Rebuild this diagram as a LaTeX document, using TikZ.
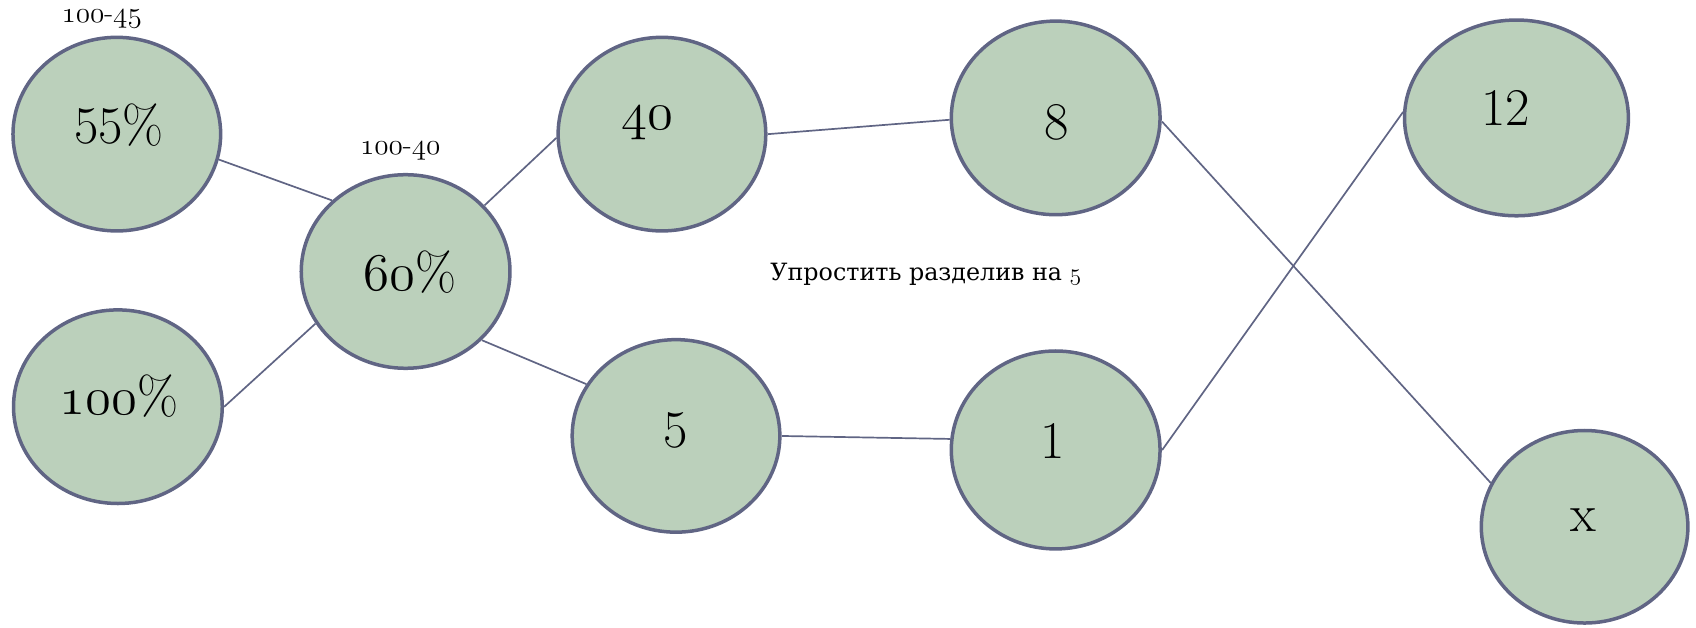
\RequirePackage{fix-cm}
\documentclass[tikz,border=0pt]{standalone}
\usepackage{fontspec}
\newfontfamily\cyrfont{DejaVu Serif}
\usetikzlibrary{shapes.geometric}
\newcommand{\osn}[1]{{\usefont{OML}{cmm}{m}{it}#1}}
\definecolor{nodefill}{RGB}{187,208,187}
\definecolor{nodeedge}{RGB}{96,101,132}
\tikzset{
  bubble/.style={ellipse, draw=nodeedge, line width=3.5pt, fill=nodefill, inner sep=0pt},
  big/.style={font=\fontsize{49}{56}\selectfont, inner sep=0pt},
  small/.style={font=\fontsize{27}{32}\selectfont, inner sep=0pt},
  note/.style={font=\cyrfont\fontsize{22}{26}\selectfont, inner sep=0pt},
  link/.style={draw=nodeedge, line width=1.7pt}
}
\begin{document}
\begin{tikzpicture}[x=1pt,y=-1pt,scale=1.0816,every node/.append style={transform shape}]
\useasboundingbox (0,0) rectangle (1568,580);
\node[bubble, minimum width=192, minimum height=179] (A) at (108,124) {};
\node[bubble, minimum width=193, minimum height=179] (B) at (109,376) {};
\node[bubble, minimum width=193, minimum height=179] (C) at (375,251) {};
\node[bubble, minimum width=192, minimum height=179] (D) at (612,124) {};
\node[bubble, minimum width=192, minimum height=178] (E) at (625,403) {};
\node[bubble, minimum width=193, minimum height=179] (F) at (976,109) {};
\node[bubble, minimum width=193, minimum height=183] (G) at (976,416) {};
\node[bubble, minimum width=207, minimum height=181] (H) at (1402,109) {};
\node[bubble, minimum width=191, minimum height=178] (I) at (1465,487) {};

\node[big] (tA) at (110,116) {55\%};
\node[big] (tB) at (110,366) {\osn{100}\%};
\node[big] (tC) at (379,252) {\osn{60}\%};
\node[big] (tD) at (599,114) {\osn{40}};
\node[big] (tE) at (625,398) {5};
\node[big] (tF) at (977,113) {8};
\node[big] (tG) at (973,408) {1};
\node[big] (tH) at (1392,100) {12};
\node[big] (tI) at (1464,481) {x};

\node[small] (lA) at (94,18) {\osn{100}-\osn{45}};
\node[small] (lC) at (370,140) {\osn{100}-\osn{40}};
\node[note] (n) at (856,254) {Упростить разделив на \osn{5}};

\draw[link] (A.-14) -- (C.136);
\draw[link] (B.0) -- (C.210);
\draw[link] (C.40) -- (D.182);
\draw[link] (C.-42) -- (E.150);
\draw[link] (D.0) -- (F.181);
\draw[link] (E.0) -- (G.174);
\draw[link] (G.0) -- (H.177);
\draw[link] (F.-2) -- (I.155);
\end{tikzpicture}
\end{document}
